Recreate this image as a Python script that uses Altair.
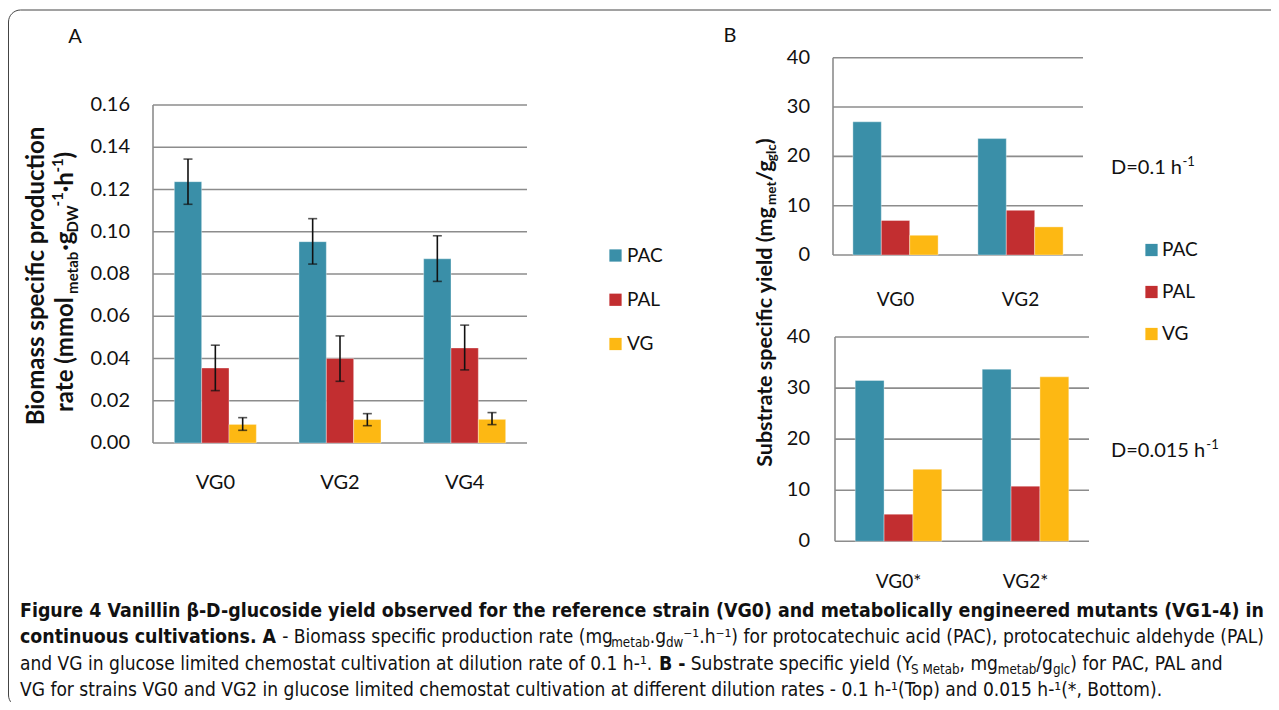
import altair as alt
import pandas as pd

# ---------------- data ----------------
SERIES = ["PAC", "PAL", "VG"]
COLORS = ["#3A8FA8", "#C22E30", "#FDB813"]

A_STRAINS = ["VG0", "VG2", "VG4"]
A_PAC = [0.1237, 0.0953, 0.0872]
A_PAC_LO = [0.1130, 0.0847, 0.0765]
A_PAC_HI = [0.1344, 0.1062, 0.0981]
A_PAL = [0.0355, 0.0400, 0.0450]
A_PAL_LO = [0.0248, 0.0292, 0.0346]
A_PAL_HI = [0.0463, 0.0507, 0.0558]
A_VG = [0.0088, 0.0111, 0.0112]
A_VG_LO = [0.0060, 0.0082, 0.0087]
A_VG_HI = [0.0120, 0.0139, 0.0144]
A_TICKS = [0.0, 0.02, 0.04, 0.06, 0.08, 0.10, 0.12, 0.14, 0.16]
A_TICK_LABELS = ["0.00", "0.02", "0.04", "0.06", "0.08", "0.10", "0.12", "0.14", "0.16"]

BT_STRAINS = ["VG0", "VG2"]
BT_PAC = [27.0, 23.6]
BT_PAL = [7.0, 9.05]
BT_VG = [4.0, 5.7]

BB_STRAINS = ["VG0*", "VG2*"]
BB_PAC = [31.5, 33.7]
BB_PAL = [5.3, 10.8]
BB_VG = [14.1, 32.2]

B_TICKS = [0, 10, 20, 30, 40]
B_TICK_LABELS = ["0", "10", "20", "30", "40"]

FONT_A = "Lato"
FONT_B = "Lato"
FONT_CAP = "DejaVu Sans Condensed"
GRID = "#8C8C8C"
INK = "#111111"
OX = 8  # page margin -> canvas offset
NB = "\u00a0"

# ---------------- approximate glyph advance tables (text layout helpers) ----------------
DV_REG = {
    'a': 1255, 'b': 1300, 'c': 1126, 'd': 1300, 'e': 1260, 'f': 721, 'g': 1300, 'h': 1298,
    'i': 569, 'j': 569, 'k': 1186, 'l': 569, 'm': 1995, 'n': 1298, 'o': 1253, 'p': 1300,
    'q': 1300, 'r': 842, 's': 1067, 't': 803, 'u': 1298, 'v': 1212, 'w': 1675, 'x': 1212,
    'y': 1212, 'z': 1075, 'A': 1401, 'B': 1405, 'C': 1430, 'D': 1577, 'E': 1294, 'F': 1178,
    'G': 1587, 'L': 1141, 'M': 1767, 'P': 1235, 'S': 1300, 'T': 1251, 'V': 1401, 'Y': 1251,
    ' ': 651, NB: 651, '.': 651, ',': 651, '-': 739, '(': 799, ')': 799, '/': 690, '*': 1024,
    '\u00b9': 821, '\u207b': 821, '\u03b2': 1300,
}
DV_BOLD = {
    'a': 1382, 'b': 1466, 'c': 1214, 'd': 1466, 'e': 1389, 'f': 891, 'g': 1466, 'h': 1458,
    'i': 702, 'k': 1362, 'l': 702, 'm': 2134, 'n': 1458, 'o': 1407, 'p': 1466, 'r': 1010,
    's': 1219, 't': 979, 'u': 1458, 'v': 1335, 'w': 1892, 'y': 1335, 'z': 1165,
    'A': 1585, 'B': 1561, 'C': 1503, 'D': 1697, 'F': 1399, 'G': 1683, 'M': 1995, 'V': 1585,
    ' ': 713, NB: 713, '.': 780, ',': 780, '-': 852, '(': 937, ')': 937, '\u03b2': 1466,
}
LATO_B = {
    'a': .52, 'b': .58, 'c': .47, 'd': .58, 'e': .54, 'f': .34, 'g': .52, 'h': .58, 'i': .26,
    'l': .26, 'm': .87, 'n': .58, 'o': .58, 'p': .58, 'r': .38, 's': .44, 't': .37, 'u': .58,
    'y': .53, 'B': .66, 'S': .55, 'D': .74, 'W': 1.0, ' ': .20, '\u00b7': .24, '(': .33,
    ')': .33, '/': .40, '-': .36, '1': .58,
}
LATO_R = {'D': .72, '=': .58, '0': .58, '1': .58, '5': .58, '.': .22, ' ': .19, 'h': .55}
K_REG = 0.87 * 1.030
K_BOLD = 0.87 * 1.038


def dv_w(s, size, bold=False):
    t = DV_BOLD if bold else DV_REG
    k = K_BOLD if bold else K_REG
    return sum(t.get(c, 1300) for c in s) / 2048.0 * size * k


def lato_w(s, size, table):
    return sum(table.get(c, .55) for c in s) * size


def P(v):
    return v - OX


def build_df(strains, vals, los=None, his=None):
    rows = []
    for si, s in enumerate(SERIES):
        for ci, c in enumerate(strains):
            r = {"strain": c, "series": s, "value": vals[si][ci]}
            if los is not None:
                r["lo"] = los[si][ci]
                r["hi"] = his[si][ci]
            rows.append(r)
    return pd.DataFrame(rows)


def panel(strains, df, ticks, labels, xr, yr, label_x, cat_y, pad_outer,
          font, fsize, cat_size, errors=False):
    xs = alt.Scale(domain=strains, range=[P(xr[0]), P(xr[1])], paddingInner=0, paddingOuter=0)
    ys = alt.Scale(domain=[ticks[0], ticks[-1]], range=[P(yr[0]), P(yr[1])], nice=False, zero=True)
    xo = alt.Scale(domain=SERIES, paddingInner=0, paddingOuter=pad_outer)
    cs = alt.Scale(domain=SERIES, range=COLORS)
    tdf = pd.DataFrame({"v": ticks, "lab": labels})

    grid = alt.Chart(tdf).mark_rule(color=GRID, strokeWidth=1.6).encode(
        y=alt.Y("v:Q", scale=ys, axis=None),
        x=alt.value(P(xr[0])), x2=alt.value(P(xr[1])))
    dom = alt.Chart(tdf).mark_rule(color=GRID, strokeWidth=1.6).encode(
        y=alt.Y("min(v):Q", scale=ys, axis=None), y2="max(v):Q",
        x=alt.value(P(xr[0])))
    tl = alt.Chart(tdf).mark_text(align="right", baseline="middle", font=font,
                                  fontSize=fsize, color=INK).encode(
        y=alt.Y("v:Q", scale=ys, axis=None), x=alt.value(P(label_x)), text="lab:N")
    bars = alt.Chart(df).mark_bar(stroke="white", strokeWidth=0.6, strokeOpacity=0.6).encode(
        x=alt.X("strain:N", scale=xs, axis=None),
        xOffset=alt.XOffset("series:N", scale=xo),
        y=alt.Y("value:Q", scale=ys, axis=None),
        color=alt.Color("series:N", scale=cs, legend=None))
    cats = alt.Chart(pd.DataFrame({"strain": strains})).mark_text(
        align="center", baseline="middle", font=font, fontSize=cat_size, color=INK).encode(
        x=alt.X("strain:N", scale=xs, axis=None), y=alt.value(P(cat_y)), text="strain:N")
    layers = [grid, dom, bars, tl, cats]
    if errors:
        base = alt.Chart(df)
        enc = dict(x=alt.X("strain:N", scale=xs, axis=None),
                   xOffset=alt.XOffset("series:N", scale=xo))
        rule = base.mark_rule(color=INK, strokeWidth=1.6).encode(
            y=alt.Y("lo:Q", scale=ys, axis=None), y2="hi:Q", **enc)
        cap_lo = base.mark_tick(color=INK, size=9, thickness=1.6, orient="horizontal").encode(
            y=alt.Y("lo:Q", scale=ys, axis=None), **enc)
        cap_hi = base.mark_tick(color=INK, size=9, thickness=1.6, orient="horizontal").encode(
            y=alt.Y("hi:Q", scale=ys, axis=None), **enc)
        layers += [rule, cap_lo, cap_hi]
    return alt.layer(*layers)


def legend(x_sq, y0, y1, x_txt, font, fsize):
    ldf = pd.DataFrame({"series": SERIES})
    ysc = alt.Scale(domain=SERIES, range=[P(y0), P(y1)], padding=0)
    cs = alt.Scale(domain=SERIES, range=COLORS)
    sq = alt.Chart(ldf).mark_square(size=150, opacity=1).encode(
        x=alt.value(P(x_sq)), y=alt.Y("series:N", scale=ysc, axis=None),
        color=alt.Color("series:N", scale=cs, legend=None))
    tx = alt.Chart(ldf).mark_text(align="left", baseline="middle", font=font,
                                  fontSize=fsize, color=INK).encode(
        x=alt.value(P(x_txt)), y=alt.Y("series:N", scale=ysc, axis=None), text="series:N")
    return alt.layer(sq, tx)


def seg(t, x, y, size, font, weight="normal", angle=0, align="left", baseline="alphabetic",
        color=INK):
    kw = dict(font=font, fontSize=size, fontWeight=weight, align=align,
              baseline=baseline, color=color)
    if angle:
        kw["angle"] = angle
    return alt.Chart(pd.DataFrame({"t": [t]})).mark_text(**kw).encode(
        text="t:N", x=alt.value(P(x)), y=alt.value(P(y)))


# ---------------- panels ----------------
dfA = build_df(A_STRAINS, [A_PAC, A_PAL, A_VG], [A_PAC_LO, A_PAL_LO, A_VG_LO],
               [A_PAC_HI, A_PAL_HI, A_VG_HI])
pA = panel(A_STRAINS, dfA, A_TICKS, A_TICK_LABELS, (153, 527), (443, 105), 130, 483,
           0.78, FONT_A, 20, 20, errors=True)

dfBT = build_df(BT_STRAINS, [BT_PAC, BT_PAL, BT_VG])
pBT = panel(BT_STRAINS, dfBT, B_TICKS, B_TICK_LABELS, (833, 1083), (255, 57.7), 810, 300,
            0.7, FONT_B, 20, 19)

dfBB = build_df(BB_STRAINS, [BB_PAC, BB_PAL, BB_VG])
pBB = panel(BB_STRAINS, dfBB, B_TICKS, B_TICK_LABELS, (835, 1089), (541.3, 337), 810, 582,
            0.7, FONT_B, 20, 19)

legA = legend(615.5, 255.5, 344, 627, FONT_A, 19)
legB = legend(1151.5, 250, 334, 1162, FONT_B, 19)

texts = []
# panel letters
texts.append(seg("A", 75, 37, 20, FONT_A, align="center", baseline="middle"))
texts.append(seg("B", 730, 36, 20, FONT_B, align="center", baseline="middle"))

# D labels with superscript
for main, x0, yb in [("D=0.1 h", 1111, 174), ("D=0.015 h", 1111, 457)]:
    texts.append(seg(main, x0, yb, 20, FONT_B))
    texts.append(seg("-1", x0 + lato_w(main, 20, LATO_R) * 1.03 + 1, yb - 8, 13, FONT_B))

# A y-title (rotated, reading upward)
texts.append(seg("Biomass specific production", 44, 276, 24, FONT_A, "bold", 270, align="center"))
A2 = [("rate (mmol", "m"), ("metab", "sub"), ("\u00b7g", "m"), ("DW", "sub"),
      ("-1", "sup"), ("\u00b7h", "m"), ("-1", "sup"), (")", "m")]
y = 412.0
for t, kind in A2:
    size = 24 if kind == "m" else 15
    xb = {"m": 73, "sub": 78, "sup": 63}[kind]
    texts.append(seg(t, xb, y, size, FONT_A, "bold", 270))
    y -= lato_w(t, size, LATO_B)

# B y-title (rotated)
B2 = [("Substrate specific yield (mg", "m"), ("met", "sub"), ("/g", "m"),
      ("glc", "sub"), (")", "m")]
FB = 21.5
total = sum(lato_w(t, FB if k == "m" else 13.5, LATO_B) for t, k in B2)
y = 302 + total / 2
for t, kind in B2:
    size = FB if kind == "m" else 13.5
    xb = 772 if kind == "m" else 776
    texts.append(seg(t, xb, y, size, FONT_B, "bold", 270))
    y -= lato_w(t, size, LATO_B)

# ---------------- caption ----------------
LINE1 = ("Figure 4 Vanillin \u03b2-D-glucoside yield observed for the reference strain (VG0) and "
         "metabolically engineered mutants (VG1-4) in")
LINE4 = ("VG for strains VG0 and VG2 in glucose limited chemostat cultivation at different "
         "dilution rates - 0.1 h-\u00b9(Top) and 0.015 h-\u00b9(*, Bottom).")
CB = 1246 / dv_w(LINE1, 1.0, True)
CR = 1142 / dv_w(LINE4, 1.0, False)
CS = CR * 0.70
L1, L2, L3, L4 = 617, 643, 670, 696

texts.append(seg(LINE1, 20, L1, CB, FONT_CAP, "bold"))
texts.append(seg(LINE4, 20, L4, CR, FONT_CAP))

# (text, kind, extra gap before the segment in px -- fine kerning corrections)
LINE2 = [("continuous cultivations. A", "b", 0),
         ("- Biomass specific production rate (mg", "r", 5), ("metab", "s", -1), (".g", "r", 0),
         ("dw", "s", 0),
         ("\u207b\u00b9.h\u207b\u00b9) for protocatechuic acid (PAC), protocatechuic aldehyde (PAL)",
          "r", 0)]
LINE3 = [("and VG in glucose limited chemostat cultivation at dilution rate of 0.1 h-\u00b9.", "r", 0),
         ("B -", "b", 9), ("Substrate specific yield (Y", "r", 5), ("S Metab", "s", -1),
         (", mg", "r", 0), ("metab", "s", 0), ("/g", "r", 0), ("glc", "s", 0),
         (") for PAC, PAL and", "r", 0)]

for parts, yb in [(LINE2, L2), (LINE3, L3)]:
    x = 20.0
    for t, kind, gap in parts:
        x += gap
        if kind == "b":
            texts.append(seg(t, x, yb, CB, FONT_CAP, "bold"))
            x += dv_w(t, CB, True)
        elif kind == "r":
            texts.append(seg(t, x, yb, CR, FONT_CAP))
            x += dv_w(t, CR)
        else:
            texts.append(seg(t, x, yb + 4, CS, FONT_CAP))
            x += dv_w(t, CS)

border = alt.Chart(pd.DataFrame({"t": [0]})).mark_rect(
    fill="white", fillOpacity=0, stroke="#444", strokeWidth=1, cornerRadius=12).encode(
    x=alt.value(0.5), x2=alt.value(1300), y=alt.value(P(10)), y2=alt.value(P(707)))

chart = alt.layer(border, pA, pBT, pBB, legA, legB, *texts).resolve_scale(
    x="independent", y="independent", xOffset="independent"
).properties(
    width=1263, height=694, padding=0, autosize="none", background="white"
).configure_view(stroke=None)

chart.save("out.html", embed_options={"renderer": "svg", "actions": False})
